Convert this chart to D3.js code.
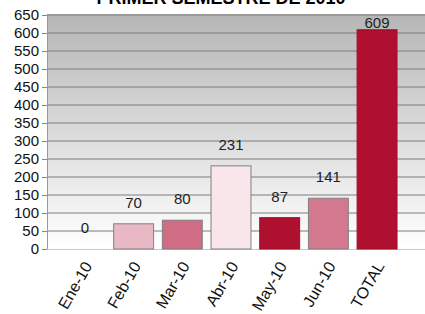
<!DOCTYPE html>
<html>
<head>
<meta charset="utf-8">
<script src="https://cdn.jsdelivr.net/npm/d3@7"></script>
<style>
  body { margin: 0; background: #fff; }
  svg { display: block; font-family: Arial, "Liberation Sans", sans-serif; }
</style>
</head>
<body>
<svg id="chart" width="425" height="314"></svg>
<script>
// data
const months = ["Ene-10", "Feb-10", "Mar-10", "Abr-10", "May-10", "Jun-10", "TOTAL"];
const values = [0, 70, 80, 231, 87, 141, 609];
const barColors = ["#e8b8c4", "#e8b8c4", "#d06c84", "#f8e6ea", "#b01030", "#d47890", "#b01030"];
const yTicks = d3.range(0, 651, 50);
const title = "PRIMER SEMESTRE DE 2010";

const svg = d3.select("#chart");
const plot = { left: 47, right: 425, top: 15, bottom: 249 };

const x = d3.scaleBand()
  .domain(months)
  .range([60.6, 401.4])
  .paddingInner(0.18)
  .paddingOuter(0.09);

const y = d3.scaleLinear()
  .domain([0, 650])
  .range([plot.bottom, plot.top]);

// background gradient
const grad = svg.append("defs").append("linearGradient")
  .attr("id", "bg")
  .attr("x1", 0).attr("y1", 0).attr("x2", 0).attr("y2", 1);
grad.append("stop").attr("offset", "0%").attr("stop-color", "#b6b6b6");
grad.append("stop").attr("offset", "100%").attr("stop-color", "#ffffff");

svg.append("rect")
  .attr("x", plot.left)
  .attr("y", plot.top - 1)
  .attr("width", plot.right - plot.left)
  .attr("height", plot.bottom - plot.top + 1)
  .attr("fill", "url(#bg)");

// gridlines
svg.append("g")
  .selectAll("line")
  .data(yTicks.filter(d => d > 0))
  .join("line")
  .attr("x1", plot.left)
  .attr("x2", plot.right)
  .attr("y1", d => y(d))
  .attr("y2", d => y(d))
  .attr("stroke", "#7c7c7c")
  .attr("stroke-width", 1.2);

// y axis
const yAxis = svg.append("g")
  .attr("transform", "translate(" + plot.left + ",0)")
  .call(d3.axisLeft(y).tickValues(yTicks).tickSize(5).tickPadding(3));
yAxis.select(".domain").attr("stroke", "#999");
yAxis.selectAll(".tick line").attr("stroke", "#888");
yAxis.selectAll("text")
  .attr("fill", "#111")
  .style("font-size", "15px")
  .attr("font-family", "Arial, 'Liberation Sans', sans-serif");

// bottom line
svg.append("line")
  .attr("x1", plot.left)
  .attr("x2", plot.right)
  .attr("y1", plot.bottom + 0.5)
  .attr("y2", plot.bottom + 0.5)
  .attr("stroke", "#c8c8c8");

// bars
svg.append("g")
  .selectAll("rect")
  .data(values)
  .join("rect")
  .attr("x", (d, i) => x(months[i]))
  .attr("y", d => y(d))
  .attr("width", x.bandwidth())
  .attr("height", d => y(0) - y(d))
  .attr("fill", (d, i) => barColors[i])
  .attr("stroke", (d, i) => barColors[i] === "#b01030" ? "#a00c28" : "#808080")
  .attr("stroke-width", d => d > 0 ? 1 : 0);

// value labels
svg.append("g")
  .selectAll("text")
  .data(values)
  .join("text")
  .attr("x", (d, i) => x(months[i]) + x.bandwidth() / 2)
  .attr("y", d => Math.max(y(d) - 16, plot.top + 13))
  .attr("text-anchor", "middle")
  .attr("fill", "#222")
  .style("font-size", "15px")
  .text(d => d);

// x labels
svg.append("g")
  .selectAll("text")
  .data(months)
  .join("text")
  .attr("transform", d => "translate(" + (x(d) + x.bandwidth() / 2 + 3) + "," + (plot.bottom + 14) + ") rotate(-60)")
  .attr("text-anchor", "end")
  .attr("dy", "0.35em")
  .attr("fill", "#111")
  .style("font-size", "16px")
  .text(d => d);

// title (cut off at the top, as in the original)
svg.append("text")
  .attr("x", 221)
  .attr("y", 4)
  .attr("text-anchor", "middle")
  .attr("font-weight", "bold")
  .attr("fill", "#000")
  .style("font-size", "18px")
  .text(title);
</script>
</body>
</html>
